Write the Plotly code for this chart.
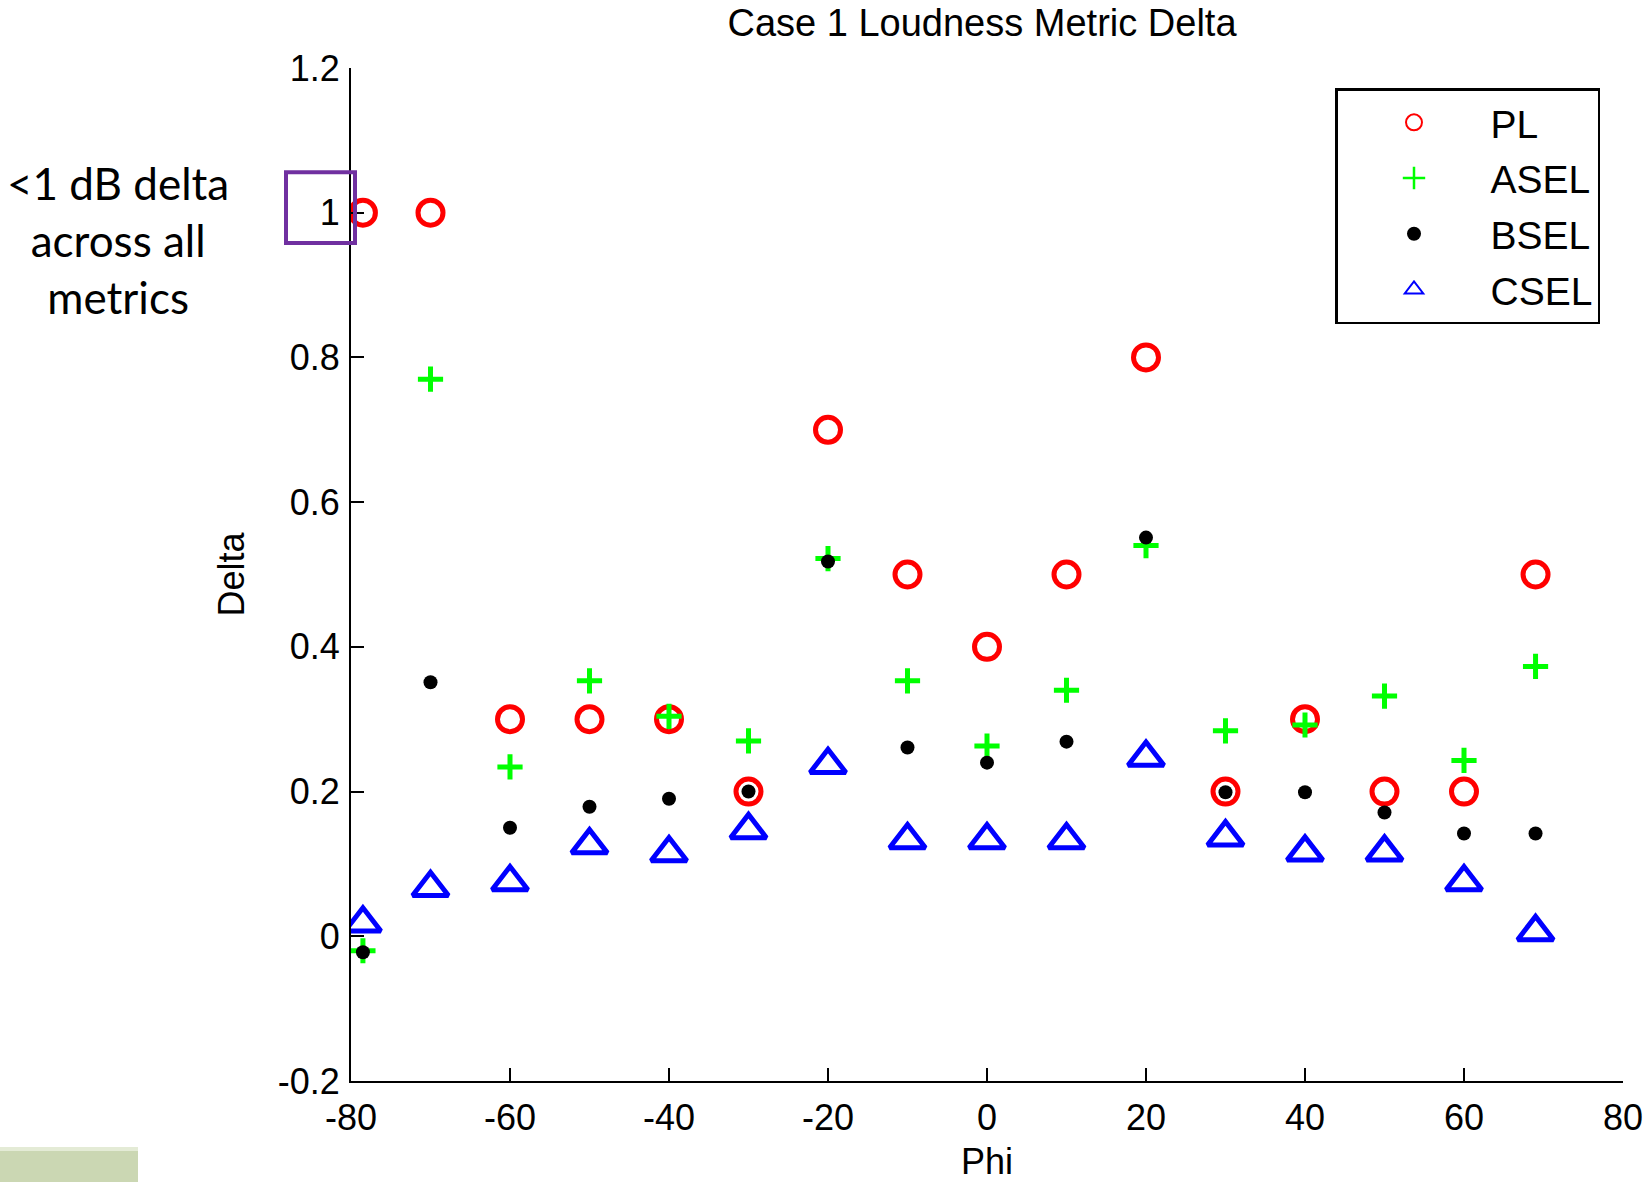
import plotly.graph_objects as go

# Loudness metric delta versus azimuth angle (Case 1)
PHI = [-78.5, -70, -60, -50, -40, -30, -20, -10, 0, 10, 20, 30, 40, 50, 60, 69]
PL = [1.0, 1.0, 0.3, 0.3, 0.3, 0.2, 0.7, 0.5, 0.4, 0.5, 0.8, 0.2, 0.3, 0.2, 0.2, 0.5]
ASEL = [-0.02, 0.77, 0.234, 0.353, 0.304, 0.27, 0.522, 0.353, 0.263, 0.34, 0.54, 0.284, 0.292, 0.332, 0.243, 0.373]
BSEL = [-0.022, 0.351, 0.15, 0.179, 0.19, 0.2, 0.518, 0.261, 0.24, 0.269, 0.551, 0.199, 0.199, 0.171, 0.142, 0.142]
CSEL = [0.018, 0.067, 0.075, 0.126, 0.115, 0.147, 0.237, 0.133, 0.133, 0.133, 0.247, 0.137, 0.116, 0.116, 0.075, 0.006]

SERIES_NAMES = ["PL", "ASEL", "BSEL", "CSEL"]

X_TICKS = [-80, -60, -40, -20, 0, 20, 40, 60, 80]
X_TICK_TEXT = ["-80", "-60", "-40", "-20", "0", "20", "40", "60", "80"]
Y_TICKS = [-0.2, 0, 0.2, 0.4, 0.6, 0.8, 1.0, 1.2]
Y_TICK_TEXT = ["-0.2", "0", "0.2", "0.4", "0.6", "0.8", "1", "1.2"]

NOTE_TEXT = "<1 dB delta<br>across all<br>metrics"

FONT = "Liberation Sans, Arial, sans-serif"

styles = {
    "PL": dict(symbol="circle-open", color="#FF0000", size=25, lw=5, leg_size=16, leg_lw=2),
    "ASEL": dict(symbol="cross-thin-open", color="#00FF00", size=18, lw=5, leg_size=16, leg_lw=2.5),
    "BSEL": dict(symbol="circle", color="#000000", size=14, lw=0, leg_size=14, leg_lw=0),
    "CSEL": dict(symbol="triangle-up-open", color="#0000FF", size=31, lw=5, leg_size=16, leg_lw=2),
}
values = {"PL": PL, "ASEL": ASEL, "BSEL": BSEL, "CSEL": CSEL}

fig = go.Figure()

for name in SERIES_NAMES:
    st = styles[name]
    fig.add_trace(go.Scatter(
        x=PHI, y=values[name], mode="markers", name=name,
        legendgroup=name, showlegend=False,
        marker=dict(symbol=st["symbol"], size=st["size"], color=st["color"],
                    line=dict(color=st["color"], width=st["lw"])),
    ))

# thinner legend glyphs, tied to the data traces by group
for name in SERIES_NAMES:
    st = styles[name]
    fig.add_trace(go.Scatter(
        x=[None], y=[None], mode="markers", name=name,
        legendgroup=name, showlegend=True,
        marker=dict(symbol=st["symbol"], size=st["leg_size"], color=st["color"],
                    line=dict(color=st["color"], width=st["leg_lw"])),
    ))

W, H = 1652, 1182
ML, MR, MT, MB = 351, 29, 68, 101
PW, PH = W - ML - MR, H - MT - MB


def px_x(p):
    return (p - ML) / PW


def px_y(p):
    return (H - MB - p) / PH


axis_common = dict(
    showline=True, linecolor="black", linewidth=2, mirror=False,
    ticks="inside", ticklen=13, tickwidth=2, tickcolor="black",
    showgrid=False, zeroline=False,
    tickfont=dict(family=FONT, size=36, color="black"),
)

fig.update_layout(
    width=W, height=H,
    margin=dict(l=ML, r=MR, t=MT, b=MB, autoexpand=False),
    paper_bgcolor="white", plot_bgcolor="white",
    font=dict(family=FONT, color="black"),
    title=dict(text="Case 1 Loudness Metric Delta", x=px_x(982), xref="paper",
               xanchor="center", y=1 - 23 / H, yanchor="middle",
               font=dict(family=FONT, size=38, color="black")),
    xaxis=dict(range=[-80, 80], tickvals=X_TICKS, ticktext=X_TICK_TEXT,
               title=dict(text="Phi", font=dict(family=FONT, size=36), standoff=27),
               ticklabelstandoff=4, **axis_common),
    yaxis=dict(range=[-0.2, 1.2], tickvals=Y_TICKS, ticktext=Y_TICK_TEXT,
               title=dict(text="Delta", font=dict(family=FONT, size=36), standoff=22),
               ticklabelstandoff=2, **axis_common),
    legend=dict(
        x=px_x(1335), y=px_y(88), xanchor="left", yanchor="top",
        bordercolor="black", borderwidth=2.5, bgcolor="white",
        font=dict(family=FONT, size=39, color="black"),
        itemwidth=143, traceorder="grouped", tracegroupgap=2,
    ),
    showlegend=True,
)

# callout box around the y = 1 tick label
fig.add_shape(type="rect", xref="paper", yref="y",
              x0=px_x(286), x1=px_x(355), y0=0.958, y1=1.056,
              line=dict(color="#7030A0", width=4), fillcolor="rgba(0,0,0,0)",
              layer="above")

# slide footer strip in the bottom-left corner
fig.add_shape(type="rect", xref="paper", yref="paper",
              x0=px_x(0), x1=px_x(138), y0=px_y(1147), y1=px_y(1151),
              line=dict(width=0), fillcolor="#E4EBD6")
fig.add_shape(type="rect", xref="paper", yref="paper",
              x0=px_x(0), x1=px_x(138), y0=px_y(1151), y1=px_y(1182),
              line=dict(width=0), fillcolor="#CBD7B3")

fig.add_annotation(
    text=NOTE_TEXT, xref="paper", yref="paper",
    x=px_x(118), y=px_y(240), xanchor="center", yanchor="middle",
    showarrow=False, align="center",
    font=dict(family="Lato, Noto Sans, sans-serif", size=44, color="black"),
)

fig.write_html("out.html")
